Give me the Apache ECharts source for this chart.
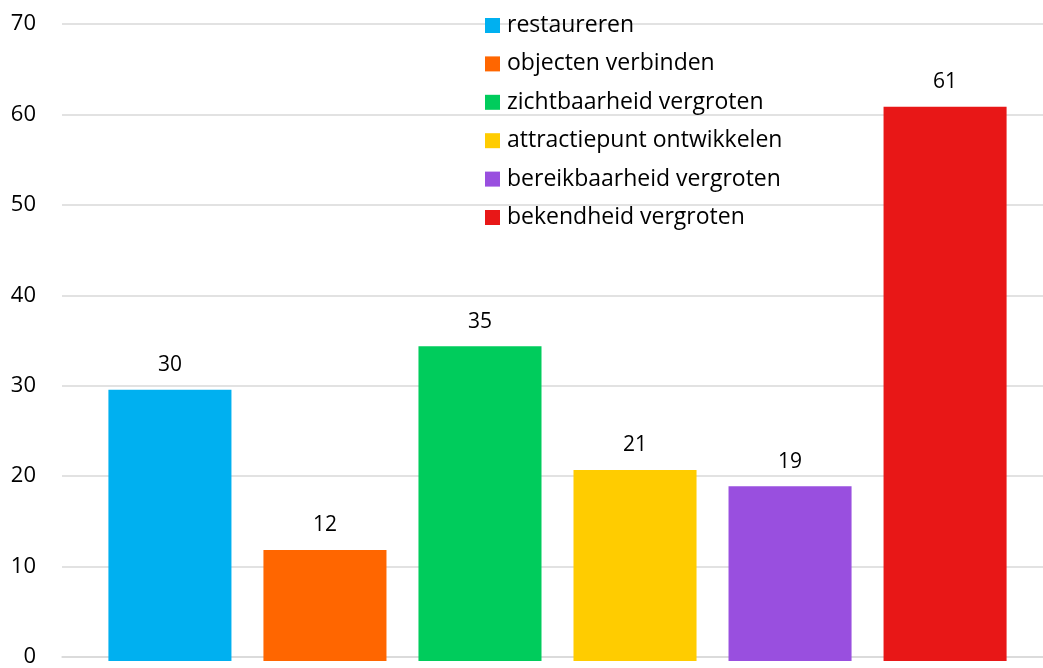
<!DOCTYPE html>
<html>
<head>
<meta charset="utf-8">
<script src="https://cdn.jsdelivr.net/npm/echarts@6/dist/echarts.min.js"></script>
<style>
  html, body { margin: 0; padding: 0; background: #fff; }
  #chart { width: 1043px; height: 668px; }
</style>
</head>
<body>
<div id="chart"></div>
<script>
// one category, every measure is its own series (like the Excel original)
var seriesNames = ['restaureren', 'objecten verbinden', 'zichtbaarheid vergroten',
  'attractiepunt ontwikkelen', 'bereikbaarheid vergroten', 'bekendheid vergroten'];
var seriesValues = [29.8, 12.2, 34.6, 21.0, 19.2, 60.9];
var seriesColors = ['#00b0f0', '#ff6600', '#00cc5c', '#ffcc00', '#994fdf', '#e81717'];
var yTicks = [0, 10, 20, 30, 40, 50, 60, 70];

var myChart = echarts.init(document.getElementById('chart'));

var series = seriesNames.map(function (name, i) {
  return {
    name: name,
    type: 'bar',
    xAxisIndex: 1,
    yAxisIndex: 1,
    data: [seriesValues[i]],
    itemStyle: { color: seriesColors[i] },
    barGap: '26%',
    barCategoryGap: '7.5%',
    label: {
      show: true,
      position: 'top',
      distance: 14,
      color: '#000',
      fontFamily: 'Open Sans',
      fontSize: 21,
      formatter: function (p) {
        return Math.round(p.value);
      }
    }
  };
});

var yMin = yTicks[0];
var yMax = yTicks[yTicks.length - 1];

var option = {
  animation: false,
  textStyle: { fontFamily: 'Open Sans' },
  // grid 0 carries the axis and gridlines, grid 1 the bars (the plot area is shifted a bit)
  grid: [
    { left: 62, right: 0, top: 24, bottom: 7 },
    { left: 72, right: 0, top: 24, bottom: 7 }
  ],
  legend: {
    orient: 'vertical',
    left: 485,
    top: 14,
    padding: 0,
    itemWidth: 15,
    itemHeight: 15,
    itemGap: 15.4,
    icon: 'rect',
    textStyle: {
      fontFamily: 'Open Sans',
      fontSize: 23,
      lineHeight: 20,
      padding: [0, 0, 0, 2],
      color: '#000'
    },
    data: seriesNames
  },
  xAxis: [{
    type: 'category',
    gridIndex: 0,
    data: [''],
    axisLine: { show: true, lineStyle: { color: '#d9d9d9', width: 1.5 } },
    axisTick: { show: false },
    axisLabel: { show: false }
  }, {
    type: 'category',
    gridIndex: 1,
    data: [''],
    axisLine: { show: false },
    axisTick: { show: false },
    axisLabel: { show: false }
  }],
  yAxis: [{
    type: 'value',
    gridIndex: 0,
    min: yMin,
    max: yMax,
    interval: 10,
    axisLine: { show: false },
    axisTick: { show: false },
    axisLabel: {
      margin: 26,
      color: '#000',
      fontFamily: 'Open Sans',
      fontSize: 22
    },
    // 分割线
    splitLine: {
      show: true,
      lineStyle: { color: '#d9d9d9', width: 1.5 }
    }
  }, {
    type: 'value',
    gridIndex: 1,
    min: yMin,
    max: yMax,
    interval: 10,
    axisLine: { show: false },
    axisTick: { show: false },
    axisLabel: { show: false },
    splitLine: { show: false }
  }],
  series: series
};

myChart.setOption(option);
</script>
</body>
</html>
